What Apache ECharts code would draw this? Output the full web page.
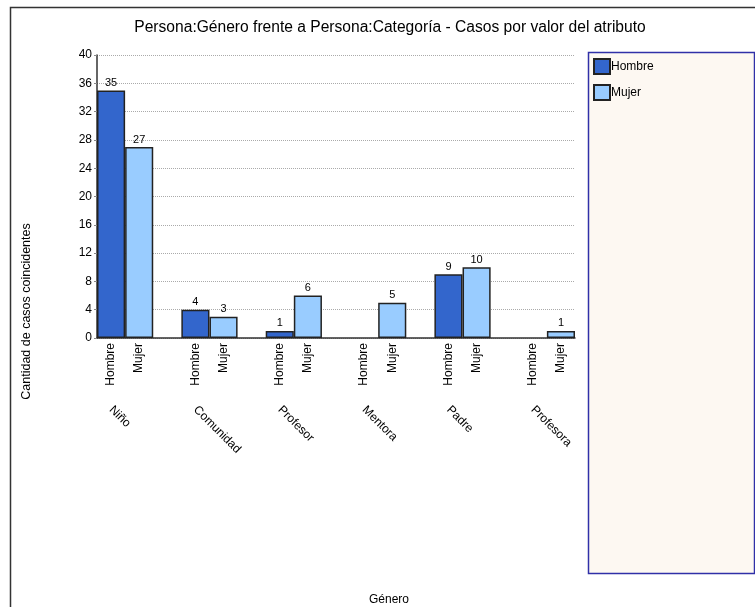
<!DOCTYPE html>
<html>
<head>
<meta charset="utf-8">
<script src="https://cdn.jsdelivr.net/npm/echarts@6/dist/echarts.min.js"></script>
<style>html,body{margin:0;padding:0;background:#fff;}#c{width:755px;height:607px;}</style>
</head>
<body>
<div id="c"></div>
<script>
const categories = ['Niño', 'Comunidad', 'Profesor', 'Mentora', 'Padre', 'Profesora'];
const seriesNames = ['Hombre', 'Mujer'];
const hombre = [35, 4, 1, 0, 9, 0];
const mujer = [27, 3, 6, 5, 10, 1];
const yMin = 0, yMax = 40, yStep = 4;

const FONT = 'Liberation Sans, Arial, sans-serif';
const values = [hombre, mujer];
// slots: Hombre, Mujer, gap per group (no gap after the last)
const slotLabels = [], groupLabels = [];
const seriesData = [[], []];
categories.forEach((cat, i) => {
  seriesNames.forEach((name, s) => {
    slotLabels.push(name);
    groupLabels.push(s === 0 ? cat : '');
    seriesData.forEach((arr, k) => arr.push(k === s ? (values[s][i] === 0 ? null : values[s][i]) : null));
  });
  if (i < categories.length - 1) {
    slotLabels.push(''); groupLabels.push('');
    seriesData.forEach(arr => arr.push(null));
  }
});

const colors = ['#3366cc', '#99ccff'];
const chart = echarts.init(document.getElementById('c'));
chart.setOption({
  animation: false,
  textStyle: { fontFamily: FONT },
  title: {
    text: 'Persona:Género frente a Persona:Categoría - Casos por valor del atributo',
    left: 385, top: 15, textAlign: 'center',
    textStyle: { fontSize: 15.6, fontWeight: 'normal', color: '#000', fontFamily: FONT }
  },
  graphic: [
    { type: 'rect', shape: { x: 10.5, y: 7.5, width: 800, height: 700 }, style: { fill: 'none', stroke: '#333', lineWidth: 1.5 }, z: -10 },
    { type: 'rect', shape: { x: 588.5, y: 52.5, width: 166, height: 521 }, style: { fill: '#fdf8f2', stroke: '#3030a8', lineWidth: 1.5 }, z: -5 }
  ],
  legend: {
    orient: 'vertical', left: 593, top: 58, padding: 0,
    itemWidth: 16, itemHeight: 15, itemGap: 9, icon: 'rect',
    data: seriesNames,
    textStyle: { fontSize: 12, color: '#000', fontFamily: FONT, padding: [0, 0, 0, -4] }
  },
  grid: { left: 97, right: 180, top: 55, bottom: 269, containLabel: false },
  xAxis: [
    {
      type: 'category', data: slotLabels, position: 'bottom',
      axisLine: { lineStyle: { color: '#333', width: 1.5 } },
      axisTick: { show: false },
      axisLabel: { interval: 0, rotate: 90, margin: 5, fontSize: 12, color: '#000', fontFamily: FONT },
      splitLine: { show: false }
    },
    {
      type: 'category', data: groupLabels, position: 'bottom',
      axisLine: { show: false }, axisTick: { show: false },
      axisLabel: { interval: 0, rotate: -45, margin: 70, fontSize: 12, color: '#000', fontFamily: FONT },
      name: 'Género', nameLocation: 'middle', nameGap: 256,
      nameTextStyle: { fontSize: 12, color: '#000', fontFamily: FONT, padding: [0, 0, 0, 106] }
    }
  ],
  yAxis: {
    type: 'value', min: yMin, max: yMax, interval: yStep,
    name: 'Cantidad de casos coincidentes', nameLocation: 'middle', nameGap: 64, nameRotate: 90,
    nameTextStyle: { fontSize: 12.5, color: '#000', fontFamily: FONT, padding: [0, 230, 0, 0] },
    axisLine: { show: true, lineStyle: { color: '#333', width: 1.5 } },
    axisTick: { show: true, length: 3, lineStyle: { color: '#888' } },
    axisLabel: { fontSize: 12, color: '#000', margin: 5, fontFamily: FONT },
    splitLine: { show: true, lineStyle: { color: '#aaa', type: [1, 1], width: 1 } }
  },
  series: seriesNames.map((name, s) => ({
    name, type: 'bar', data: seriesData[s],
    barWidth: '100%', barGap: '-100%',
    itemStyle: { color: colors[s], borderColor: '#222', borderWidth: 1.5 },
    label: { show: true, position: 'top', distance: 2, fontSize: 11, color: '#000', fontFamily: FONT }
  }))
});
</script>
</body>
</html>
